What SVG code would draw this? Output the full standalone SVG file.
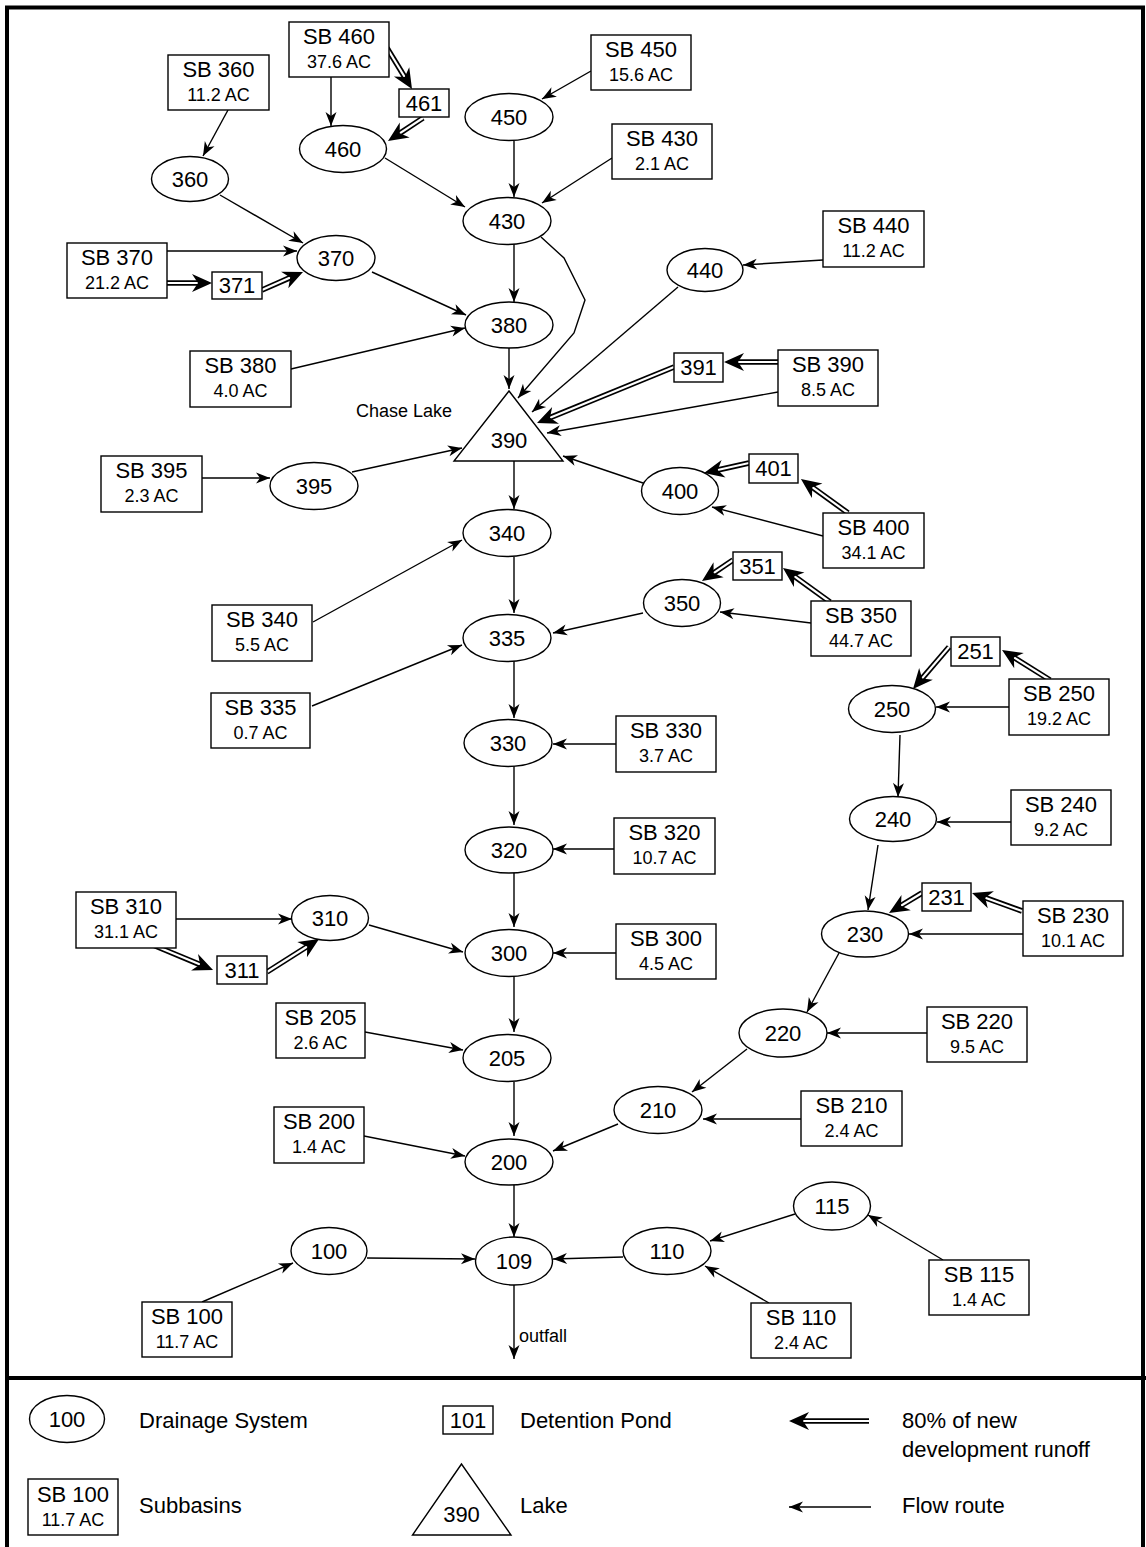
<svg xmlns="http://www.w3.org/2000/svg" width="1146" height="1547" viewBox="0 0 1146 1547">
<style>
text{font-family:"Liberation Sans",Arial,Helvetica,sans-serif;fill:#000}
.n{font-size:22px;text-anchor:middle}
.s{font-size:18px;text-anchor:middle}
.l{font-size:22px}
.sm{font-size:18px}
.sh{fill:#fff;stroke:#000;stroke-width:1.4}
.f{fill:none;stroke:#000;stroke-width:1.4;marker-end:url(#ar)}
.do{fill:none;stroke:#000;stroke-width:5.6}
.di{fill:none;stroke:#fff;stroke-width:2.2;marker-end:url(#ad)}
.fr{fill:none;stroke:#000;stroke-width:4}
</style>
<defs>
<marker id="ar" markerUnits="userSpaceOnUse" markerWidth="16" markerHeight="12" refX="0" refY="0" orient="auto" overflow="visible"><path d="M0,0 L-14,-5.5 L-10,0 L-14,5.5 Z" fill="#000"/></marker>
<marker id="ad" markerUnits="userSpaceOnUse" markerWidth="20" markerHeight="20" refX="0" refY="0" orient="auto" overflow="visible"><path d="M14,0 L-6,-9 L0,0 L-6,9 Z" fill="#000"/></marker>
</defs>
<rect width="1146" height="1547" fill="#fff"/>
<g id="frame">
<rect class="fr" x="7" y="7.5" width="1136" height="1600"/>
<line class="fr" x1="7" y1="1378" x2="1146" y2="1378" stroke-width="4.5"/>
</g>
<g id="connectors">
<line class="f" x1="331" y1="77" x2="331" y2="126"/>
<line class="f" x1="385" y1="158" x2="465" y2="207"/>
<line class="f" x1="228" y1="110" x2="203" y2="156"/>
<line class="f" x1="220" y1="195" x2="303" y2="243"/>
<line class="f" x1="167" y1="251" x2="297" y2="251"/>
<line class="f" x1="372" y1="272" x2="466" y2="315"/>
<line class="f" x1="591" y1="71" x2="542" y2="99"/>
<line class="f" x1="514" y1="141" x2="514" y2="197"/>
<line class="f" x1="612" y1="158" x2="542" y2="203"/>
<line class="f" x1="514" y1="244" x2="514" y2="302"/>
<polyline class="f" points="541,237 564,258 585,300 574,333 518,398"/>
<line class="f" x1="509" y1="348" x2="509" y2="389"/>
<line class="f" x1="291" y1="369" x2="465" y2="328"/>
<line class="f" x1="678" y1="287" x2="532" y2="412"/>
<line class="f" x1="823" y1="260" x2="743" y2="265"/>
<line class="f" x1="778" y1="392" x2="547" y2="433"/>
<line class="f" x1="196" y1="478" x2="270" y2="478"/>
<line class="f" x1="352" y1="472" x2="462" y2="448"/>
<line class="f" x1="643" y1="483" x2="563" y2="456"/>
<line class="f" x1="823" y1="536" x2="712" y2="507"/>
<line class="f" x1="514" y1="461" x2="514" y2="509"/>
<line class="f" x1="313" y1="622" x2="462" y2="540"/>
<line class="f" x1="514" y1="557" x2="514" y2="613"/>
<line class="f" x1="643" y1="613" x2="553" y2="633"/>
<line class="f" x1="811" y1="623" x2="720" y2="612"/>
<line class="f" x1="312" y1="706" x2="462" y2="645"/>
<line class="f" x1="514" y1="661" x2="514" y2="718"/>
<line class="f" x1="616" y1="744" x2="553" y2="744"/>
<line class="f" x1="514" y1="766" x2="514" y2="825"/>
<line class="f" x1="614" y1="849" x2="553" y2="849"/>
<line class="f" x1="514" y1="873" x2="514" y2="927"/>
<line class="f" x1="616" y1="953" x2="553" y2="953"/>
<line class="f" x1="369" y1="925" x2="463" y2="952"/>
<line class="f" x1="176" y1="919" x2="292" y2="919"/>
<line class="f" x1="514" y1="976" x2="514" y2="1032"/>
<line class="f" x1="365" y1="1032" x2="463" y2="1050"/>
<line class="f" x1="514" y1="1082" x2="514" y2="1136"/>
<line class="f" x1="364" y1="1136" x2="465" y2="1156"/>
<line class="f" x1="618" y1="1124" x2="553" y2="1151"/>
<line class="f" x1="747" y1="1049" x2="692" y2="1092"/>
<line class="f" x1="801" y1="1119" x2="703" y2="1119"/>
<line class="f" x1="927" y1="1033" x2="827" y2="1033"/>
<line class="f" x1="839" y1="953" x2="807" y2="1012"/>
<line class="f" x1="1023" y1="934" x2="909" y2="934"/>
<line class="f" x1="878" y1="845" x2="868" y2="910"/>
<line class="f" x1="1011" y1="822" x2="937" y2="822"/>
<line class="f" x1="900" y1="735" x2="898" y2="797"/>
<line class="f" x1="1009" y1="707" x2="936" y2="707"/>
<line class="f" x1="795" y1="1214" x2="710" y2="1241"/>
<line class="f" x1="943" y1="1260" x2="868" y2="1215"/>
<line class="f" x1="769" y1="1303" x2="705" y2="1266"/>
<line class="f" x1="623" y1="1257" x2="553" y2="1259"/>
<line class="f" x1="367" y1="1258" x2="475" y2="1259"/>
<line class="f" x1="202" y1="1302" x2="293" y2="1263"/>
<line class="f" x1="514" y1="1185" x2="514" y2="1237"/>
<line class="f" x1="514" y1="1285" x2="514" y2="1359"/>
<path class="do" d="M387,48 L404.7,77"/><path class="di" d="M387,48 L404.7,77"/>
<path class="do" d="M423,118 L399.7,133.3"/><path class="di" d="M423,118 L399.7,133.3"/>
<path class="do" d="M165,283 L198,283"/><path class="di" d="M165,283 L198,283"/>
<path class="do" d="M262,290 L290.2,277.6"/><path class="di" d="M262,290 L290.2,277.6"/>
<path class="do" d="M778,362 L738,362"/><path class="di" d="M778,362 L738,362"/>
<path class="do" d="M674,367 L550,417.7"/><path class="di" d="M674,367 L550,417.7"/>
<path class="do" d="M749,463 L717.7,470"/><path class="di" d="M749,463 L717.7,470"/>
<path class="do" d="M848,513 L812.3,487.2"/><path class="di" d="M848,513 L812.3,487.2"/>
<path class="do" d="M733,560 L713.6,573.1"/><path class="di" d="M733,560 L713.6,573.1"/>
<path class="do" d="M830,602 L794.3,576.2"/><path class="di" d="M830,602 L794.3,576.2"/>
<path class="do" d="M153,945 L200.1,964.6"/><path class="di" d="M153,945 L200.1,964.6"/>
<path class="do" d="M267,972 L307.2,946.5"/><path class="di" d="M267,972 L307.2,946.5"/>
<path class="do" d="M1022,911 L985.2,897.7"/><path class="di" d="M1022,911 L985.2,897.7"/>
<path class="do" d="M922,893 L901,905.7"/><path class="di" d="M922,893 L901,905.7"/>
<path class="do" d="M1050,680 L1013.9,657.4"/><path class="di" d="M1050,680 L1013.9,657.4"/>
<path class="do" d="M949,647 L922.1,678.4"/><path class="di" d="M949,647 L922.1,678.4"/>
</g>
<text class="sm" x="356" y="417">Chase Lake</text>
<text class="sm" x="519" y="1342">outfall</text>
<g id="n460"><ellipse class="sh" cx="343" cy="149" rx="43.5" ry="23.5"/><text class="n" x="343" y="157">460</text></g>
<g id="n360"><ellipse class="sh" cx="190" cy="179" rx="38.5" ry="22.5"/><text class="n" x="190" y="187">360</text></g>
<g id="n370"><ellipse class="sh" cx="336" cy="258" rx="39" ry="22.5"/><text class="n" x="336" y="266">370</text></g>
<g id="n450"><ellipse class="sh" cx="509" cy="117" rx="44" ry="23.5"/><text class="n" x="509" y="125">450</text></g>
<g id="n430"><ellipse class="sh" cx="507" cy="221" rx="44" ry="23.5"/><text class="n" x="507" y="229">430</text></g>
<g id="n380"><ellipse class="sh" cx="509" cy="325" rx="44" ry="23"/><text class="n" x="509" y="333">380</text></g>
<g id="n440"><ellipse class="sh" cx="705" cy="270" rx="38" ry="21.5"/><text class="n" x="705" y="278">440</text></g>
<g id="n395"><ellipse class="sh" cx="314" cy="486" rx="44" ry="23.5"/><text class="n" x="314" y="494">395</text></g>
<g id="n400"><ellipse class="sh" cx="680" cy="491" rx="38.5" ry="23.5"/><text class="n" x="680" y="499">400</text></g>
<g id="n340"><ellipse class="sh" cx="507" cy="533" rx="44" ry="23.5"/><text class="n" x="507" y="541">340</text></g>
<g id="n350"><ellipse class="sh" cx="682" cy="603" rx="38.5" ry="23.5"/><text class="n" x="682" y="611">350</text></g>
<g id="n335"><ellipse class="sh" cx="507" cy="638" rx="44" ry="23.5"/><text class="n" x="507" y="646">335</text></g>
<g id="n330"><ellipse class="sh" cx="508" cy="743" rx="44" ry="23.5"/><text class="n" x="508" y="751">330</text></g>
<g id="n250"><ellipse class="sh" cx="892" cy="709" rx="43.5" ry="23.5"/><text class="n" x="892" y="717">250</text></g>
<g id="n240"><ellipse class="sh" cx="893" cy="819" rx="43.5" ry="22.5"/><text class="n" x="893" y="827">240</text></g>
<g id="n320"><ellipse class="sh" cx="509" cy="850" rx="44" ry="23"/><text class="n" x="509" y="858">320</text></g>
<g id="n230"><ellipse class="sh" cx="865" cy="934" rx="43.5" ry="23"/><text class="n" x="865" y="942">230</text></g>
<g id="n310"><ellipse class="sh" cx="330" cy="918" rx="38.5" ry="22.5"/><text class="n" x="330" y="926">310</text></g>
<g id="n300"><ellipse class="sh" cx="509" cy="953" rx="44" ry="23.5"/><text class="n" x="509" y="961">300</text></g>
<g id="n205"><ellipse class="sh" cx="507" cy="1058" rx="44" ry="23.5"/><text class="n" x="507" y="1066">205</text></g>
<g id="n220"><ellipse class="sh" cx="783" cy="1033" rx="44" ry="24"/><text class="n" x="783" y="1041">220</text></g>
<g id="n210"><ellipse class="sh" cx="658" cy="1110" rx="44" ry="23.5"/><text class="n" x="658" y="1118">210</text></g>
<g id="n200"><ellipse class="sh" cx="509" cy="1162" rx="44" ry="23"/><text class="n" x="509" y="1170">200</text></g>
<g id="n115"><ellipse class="sh" cx="832" cy="1206" rx="38.5" ry="24"/><text class="n" x="832" y="1214">115</text></g>
<g id="n110"><ellipse class="sh" cx="667" cy="1251" rx="44" ry="23.5"/><text class="n" x="667" y="1259">110</text></g>
<g id="n109"><ellipse class="sh" cx="514" cy="1261" rx="38.5" ry="24"/><text class="n" x="514" y="1269">109</text></g>
<g id="n100"><ellipse class="sh" cx="329" cy="1251" rx="38" ry="23.5"/><text class="n" x="329" y="1259">100</text></g>
<g id="lake390"><polygon class="sh" points="509,391 454,461 563,461"/><text class="n" x="509" y="448">390</text></g>
<g id="p461"><rect class="sh" x="399" y="89" width="50" height="28"/><text class="n" x="424" y="111">461</text></g>
<g id="p371"><rect class="sh" x="212" y="272" width="50" height="27"/><text class="n" x="237" y="293">371</text></g>
<g id="p391"><rect class="sh" x="674" y="353" width="49" height="29"/><text class="n" x="698.5" y="375">391</text></g>
<g id="p401"><rect class="sh" x="749" y="454" width="49" height="29"/><text class="n" x="773.5" y="476">401</text></g>
<g id="p351"><rect class="sh" x="733" y="552" width="49" height="28"/><text class="n" x="757.5" y="574">351</text></g>
<g id="p251"><rect class="sh" x="951" y="637" width="49" height="29"/><text class="n" x="975.5" y="659">251</text></g>
<g id="p231"><rect class="sh" x="922" y="883" width="49" height="28"/><text class="n" x="946.5" y="905">231</text></g>
<g id="p311"><rect class="sh" x="217" y="956" width="50" height="28"/><text class="n" x="242" y="978">311</text></g>
<g id="sb460"><rect class="sh" x="289" y="22" width="100" height="55"/><text class="n" x="339" y="44">SB 460</text><text class="s" x="339" y="68">37.6 AC</text></g>
<g id="sb360"><rect class="sh" x="168" y="55" width="101" height="55"/><text class="n" x="218.5" y="77">SB 360</text><text class="s" x="218.5" y="101">11.2 AC</text></g>
<g id="sb450"><rect class="sh" x="591" y="35" width="100" height="55"/><text class="n" x="641" y="57">SB 450</text><text class="s" x="641" y="81">15.6 AC</text></g>
<g id="sb430"><rect class="sh" x="612" y="124" width="100" height="55"/><text class="n" x="662" y="146">SB 430</text><text class="s" x="662" y="170">2.1 AC</text></g>
<g id="sb370"><rect class="sh" x="67" y="243" width="100" height="55"/><text class="n" x="117" y="265">SB 370</text><text class="s" x="117" y="289">21.2 AC</text></g>
<g id="sb440"><rect class="sh" x="823" y="211" width="101" height="56"/><text class="n" x="873.5" y="233">SB 440</text><text class="s" x="873.5" y="257">11.2 AC</text></g>
<g id="sb380"><rect class="sh" x="190" y="351" width="101" height="56"/><text class="n" x="240.5" y="373">SB 380</text><text class="s" x="240.5" y="397">4.0 AC</text></g>
<g id="sb390"><rect class="sh" x="778" y="350" width="100" height="56"/><text class="n" x="828" y="372">SB 390</text><text class="s" x="828" y="396">8.5 AC</text></g>
<g id="sb395"><rect class="sh" x="101" y="456" width="101" height="56"/><text class="n" x="151.5" y="478">SB 395</text><text class="s" x="151.5" y="502">2.3 AC</text></g>
<g id="sb400"><rect class="sh" x="823" y="513" width="101" height="55"/><text class="n" x="873.5" y="535">SB 400</text><text class="s" x="873.5" y="559">34.1 AC</text></g>
<g id="sb340"><rect class="sh" x="212" y="605" width="100" height="56"/><text class="n" x="262" y="627">SB 340</text><text class="s" x="262" y="651">5.5 AC</text></g>
<g id="sb350"><rect class="sh" x="811" y="601" width="100" height="55"/><text class="n" x="861" y="623">SB 350</text><text class="s" x="861" y="647">44.7 AC</text></g>
<g id="sb335"><rect class="sh" x="211" y="693" width="99" height="55"/><text class="n" x="260.5" y="715">SB 335</text><text class="s" x="260.5" y="739">0.7 AC</text></g>
<g id="sb250"><rect class="sh" x="1009" y="679" width="100" height="56"/><text class="n" x="1059" y="701">SB 250</text><text class="s" x="1059" y="725">19.2 AC</text></g>
<g id="sb330"><rect class="sh" x="616" y="716" width="100" height="56"/><text class="n" x="666" y="738">SB 330</text><text class="s" x="666" y="762">3.7 AC</text></g>
<g id="sb240"><rect class="sh" x="1011" y="790" width="100" height="55"/><text class="n" x="1061" y="812">SB 240</text><text class="s" x="1061" y="836">9.2 AC</text></g>
<g id="sb320"><rect class="sh" x="614" y="818" width="101" height="56"/><text class="n" x="664.5" y="840">SB 320</text><text class="s" x="664.5" y="864">10.7 AC</text></g>
<g id="sb310"><rect class="sh" x="76" y="892" width="100" height="56"/><text class="n" x="126" y="914">SB 310</text><text class="s" x="126" y="938">31.1 AC</text></g>
<g id="sb230"><rect class="sh" x="1023" y="901" width="100" height="55"/><text class="n" x="1073" y="923">SB 230</text><text class="s" x="1073" y="947">10.1 AC</text></g>
<g id="sb300"><rect class="sh" x="616" y="924" width="100" height="55"/><text class="n" x="666" y="946">SB 300</text><text class="s" x="666" y="970">4.5 AC</text></g>
<g id="sb205"><rect class="sh" x="276" y="1003" width="89" height="55"/><text class="n" x="320.5" y="1025">SB 205</text><text class="s" x="320.5" y="1049">2.6 AC</text></g>
<g id="sb220"><rect class="sh" x="927" y="1007" width="100" height="55"/><text class="n" x="977" y="1029">SB 220</text><text class="s" x="977" y="1053">9.5 AC</text></g>
<g id="sb210"><rect class="sh" x="801" y="1091" width="101" height="55"/><text class="n" x="851.5" y="1113">SB 210</text><text class="s" x="851.5" y="1137">2.4 AC</text></g>
<g id="sb200"><rect class="sh" x="274" y="1107" width="90" height="56"/><text class="n" x="319" y="1129">SB 200</text><text class="s" x="319" y="1153">1.4 AC</text></g>
<g id="sb115"><rect class="sh" x="929" y="1260" width="100" height="55"/><text class="n" x="979" y="1282">SB 115</text><text class="s" x="979" y="1306">1.4 AC</text></g>
<g id="sb110"><rect class="sh" x="751" y="1303" width="100" height="55"/><text class="n" x="801" y="1325">SB 110</text><text class="s" x="801" y="1349">2.4 AC</text></g>
<g id="sb100"><rect class="sh" x="142" y="1302" width="90" height="55"/><text class="n" x="187" y="1324">SB 100</text><text class="s" x="187" y="1348">11.7 AC</text></g>
<g id="legend">
<ellipse class="sh" cx="67" cy="1419" rx="37.5" ry="23.5"/><text class="n" x="67" y="1427">100</text>
<text class="l" x="139" y="1428">Drainage System</text>
<rect class="sh" x="28" y="1479" width="90" height="56"/><text class="n" x="73" y="1502">SB 100</text><text class="s" x="73" y="1526">11.7 AC</text>
<text class="l" x="139" y="1513">Subbasins</text>
<rect class="sh" x="443" y="1406" width="50" height="28"/><text class="n" x="468" y="1428">101</text>
<text class="l" x="520" y="1428">Detention Pond</text>
<polygon class="sh" points="461.5,1464 412.5,1535 511,1535"/><text class="n" x="461.5" y="1522">390</text>
<text class="l" x="520" y="1513">Lake</text>
<path class="do" d="M869,1421 L803,1421"/><path class="di" d="M869,1421 L803,1421"/>
<text class="l" x="902" y="1428">80% of new</text>
<text class="l" x="902" y="1457">development runoff</text>
<line class="f" x1="871" y1="1507" x2="789" y2="1507"/>
<text class="l" x="902" y="1513">Flow route</text>
</g>
</svg>
